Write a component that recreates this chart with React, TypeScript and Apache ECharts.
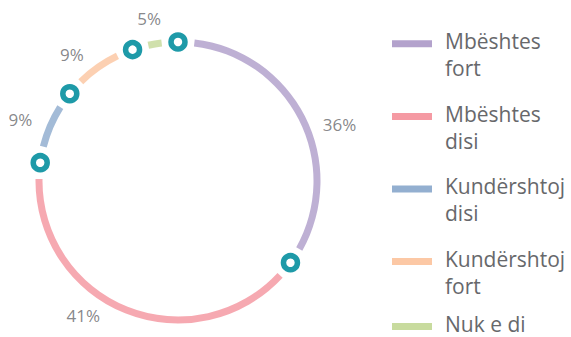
import React, { useEffect, useRef } from "react";
import * as echarts from "echarts";

// ---- data ----
const categories = ["Mbështes fort", "Mbështes disi", "Kundërshtoj disi", "Kundërshtoj fort", "Nuk e di"];
const legendText = ["Mbështes\nfort", "Mbështes\ndisi", "Kundërshtoj\ndisi", "Kundërshtoj\nfort", "Nuk e di"];
// arc shares as drawn in the picture
const values = [35.0, 42.1, 8.7, 8.9, 5.3];
// printed percentage labels
const valueLabels = ["36%", "41%", "9%", "9%", "5%"];
const colors = ["#b3a2cc", "#f59aa3", "#93afd0", "#fcc8a5", "#c8db9e"];

// ---- style / layout ----
const CENTER = [178, 181];
const RING_R = 139;
const LABEL_MAX_R = 171;
const markerR = RING_R / LABEL_MAX_R;
const labelRadius = [1.0, 0.96, 0.99, 0.967, 0.965];
const labelAngleShift = [2.17, 3.75, -0.51, -1.33, -0.15];
const legendRectTop = [40.2, 113, 185.5, 258, 323];
const TEAL = "#1e9aa8";
const TEXT = "#67686b";

export default function App() {
  const ref = useRef<HTMLDivElement>(null);
  useEffect(() => {
    if (!ref.current) return;
    const chart = echarts.init(ref.current, null, { renderer: "svg" });
    const total = values.reduce((a, b) => a + b, 0);
    const starts: number[] = [];
    let acc = 0;
    values.forEach((v) => {
      starts.push((acc / total) * 100);
      acc += v;
    });
    const mids = values.map((v, i) => starts[i] + ((v / total) * 100) / 2);

    const option: any = {
      animation: false,
      polar: { center: CENTER, radius: LABEL_MAX_R },
      angleAxis: { type: "value", min: 0, max: 100, startAngle: 90, clockwise: true, show: false },
      radiusAxis: { type: "value", min: 0, max: 1, show: false },
      legend: categories.map((name, i) => {
        const twoLine = legendText[i].indexOf("\n") >= 0;
        return {
          data: [{ name, itemStyle: { color: colors[i], opacity: 1, borderWidth: 0 } }],
          left: 392,
          top: legendRectTop[i] - 13,
          padding: 0,
          orient: "vertical",
          selectedMode: false,
          itemWidth: 48,
          itemHeight: twoLine ? 28 : 13,
          icon: twoLine ? "path://M0,0H40V7H0Z M48,28L48,28" : "path://M0,6H40V13H0Z M48,0L48,0",
          formatter: () => legendText[i],
          textStyle: { fontFamily: "Open Sans", fontSize: 21, lineHeight: 27, color: TEXT },
        };
      }),
      series: [
        {
          type: "pie",
          center: CENTER,
          radius: [RING_R - 3.5, RING_R + 3.5],
          startAngle: 90,
          clockwise: true,
          padAngle: 13.5,
          silent: true,
          label: { show: false },
          labelLine: { show: false },
          emphasis: { disabled: true },
          data: categories.map((name, i) => ({
            name,
            value: values[i],
            itemStyle: { color: colors[i], opacity: 0.85 },
          })),
        },
        {
          type: "scatter",
          coordinateSystem: "polar",
          silent: true,
          z: 10,
          symbol: "circle",
          symbolSize: 14,
          itemStyle: { color: "#ffffff", borderColor: TEAL, borderWidth: 5.5, opacity: 1 },
          data: starts.map((s) => [markerR, s]),
        },
        {
          type: "scatter",
          coordinateSystem: "polar",
          silent: true,
          z: 11,
          symbolSize: 1,
          itemStyle: { color: "rgba(0,0,0,0)" },
          label: {
            show: true,
            position: "inside",
            formatter: "{b}",
            fontFamily: "Open Sans",
            fontSize: 17,
            color: TEXT,
          },
          data: values.map((v, i) => ({
            name: valueLabels[i],
            value: [labelRadius[i], mids[i] + labelAngleShift[i]],
          })),
        },
      ],
    };
    chart.setOption(option);
    return () => chart.dispose();
  }, []);
  return (
    <div
      ref={ref}
      style={{ position: "fixed", left: 0, top: 0, width: 571, height: 337, background: "#fff" }}
    />
  );
}
